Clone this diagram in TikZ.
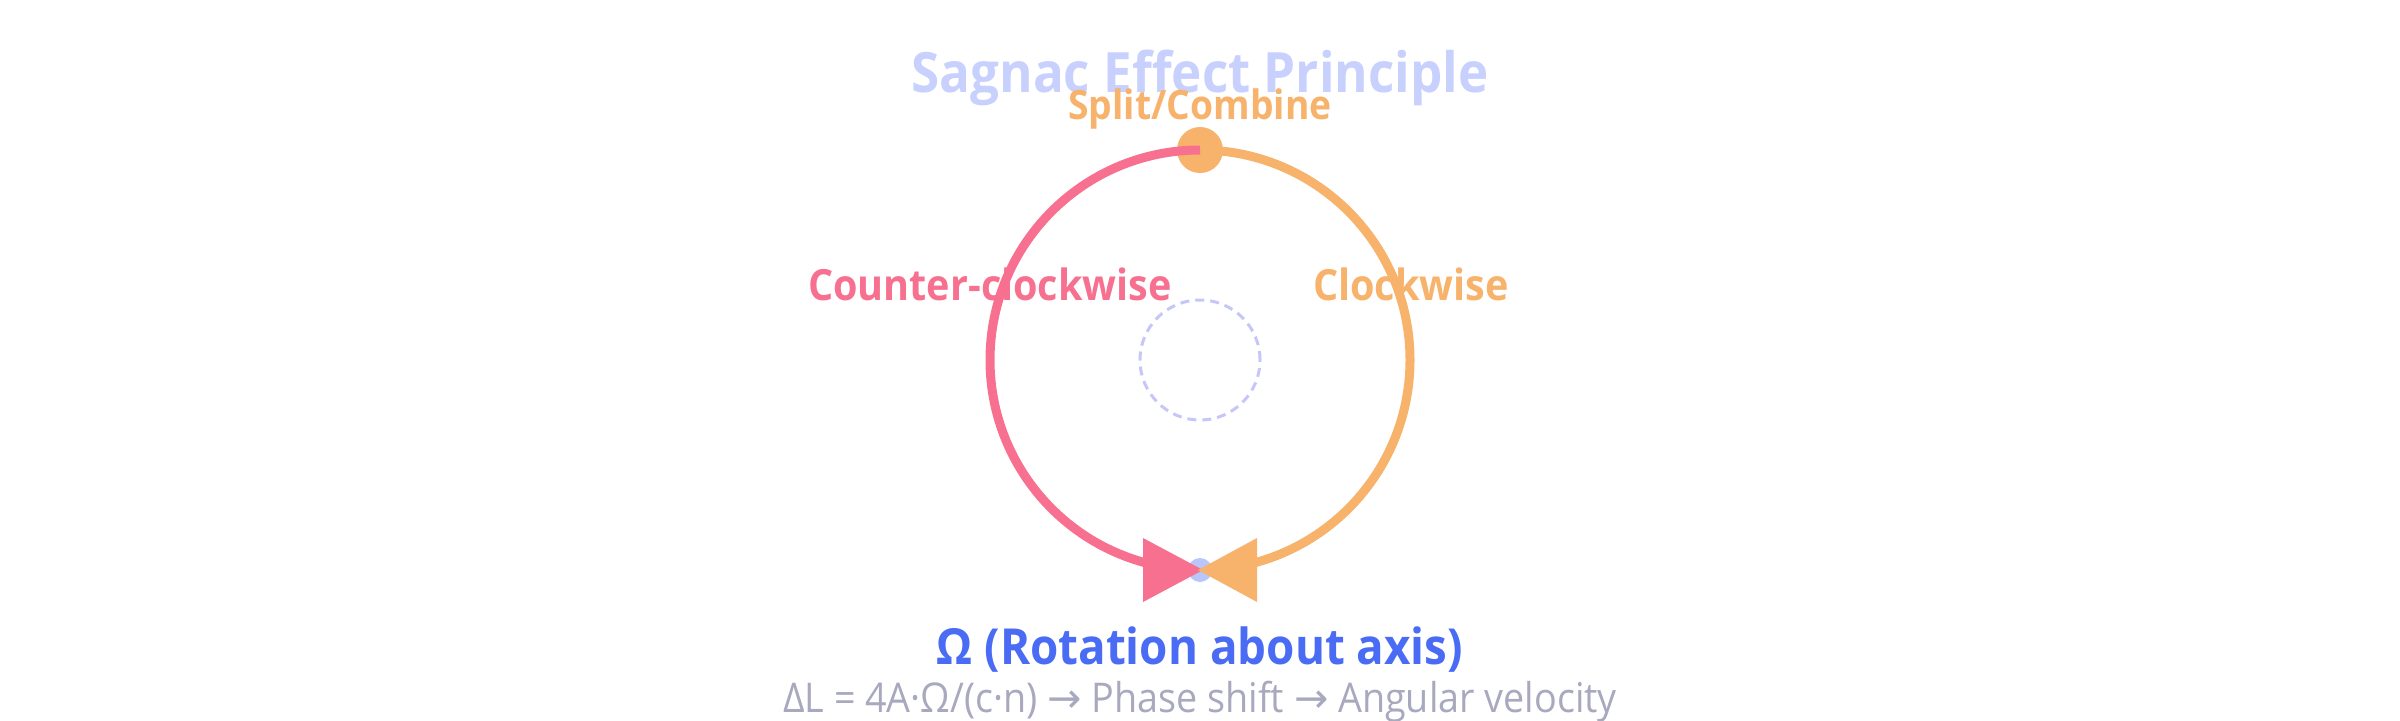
\documentclass[tikz,border=0pt]{standalone}
\usepackage{fontspec}
\setmainfont[FakeStretch=0.92]{Open Sans}
\newfontfamily\symfont{DejaVu Sans}
\definecolor{titlec}{RGB}{200,208,254}
\definecolor{orangec}{RGB}{247,178,108}
\definecolor{pinkc}{RGB}{247,112,143}
\definecolor{bluec}{RGB}{74,108,245}
\definecolor{grayc}{RGB}{168,168,190}
\definecolor{dashc}{RGB}{198,198,250}
\definecolor{dotc}{RGB}{184,198,250}
\tikzset{
  lbl/.style={inner sep=0pt, anchor=base},
  beam/.style={line width=9pt, line cap=butt},
}
\begin{document}
\begin{tikzpicture}[x=1pt,y=-1pt]
\useasboundingbox (0,0) rectangle (2400,720);
\coordinate (ctr) at (1200,360);
\coordinate (top) at (1200,150);
\coordinate (bot) at (1200,570);
% inner rotation axis
\draw[dashc, line width=3pt, dash pattern=on 9pt off 6pt] (ctr) circle[radius=60pt];
% bottom detector dot
\fill[dotc] (bot) circle[radius=12pt];
% clockwise beam
\draw[beam, orangec] (top) arc[start angle=90, end angle=-82, radius=210pt];
% split/combine
\fill[orangec] (top) circle[radius=23pt];
% counter-clockwise beam
\draw[beam, pinkc] (top) arc[start angle=90, end angle=262, radius=210pt];
% arrowheads
\fill[pinkc] (1143,538) -- (1143,602) -- (1203,570) -- cycle;
\fill[orangec] (1257,538) -- (1257,602) -- (1198,570) -- cycle;
% texts
\node[lbl, titlec, font=\bfseries\fontsize{55.6}{60}\selectfont] (title) at (1200,92) {Sagnac Effect Principle};
\node[lbl, orangec, font=\bfseries\fontsize{40.5}{44}\selectfont] (split) at (1200,119) {Split/Combine};
\node[lbl, anchor=base east, pinkc, font=\bfseries\fontsize{43}{46}\selectfont] (ccw) at (1172,300) {Counter-clockwise};
\node[lbl, anchor=base west, orangec, font=\bfseries\fontsize{43}{46}\selectfont] (cw) at (1313,300) {Clockwise};
\node[lbl, bluec, font=\bfseries\fontsize{49.7}{54}\selectfont] (omega) at (1200,664) {Ω (Rotation about axis)};
\node[lbl, grayc, font=\fontsize{41}{44}\selectfont] (formula) at (1200,712) {ΔL = 4A·Ω/(c·n) {\symfont →} Phase shift {\symfont →} Angular velocity};
\end{tikzpicture}
\end{document}
